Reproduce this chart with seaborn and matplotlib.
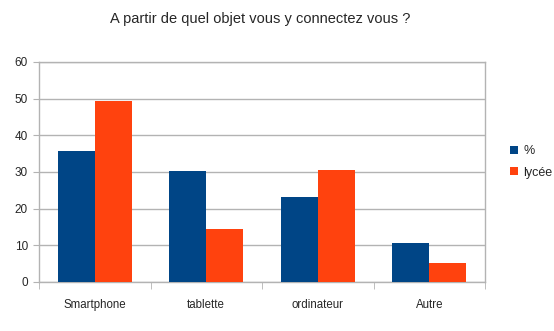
import matplotlib
matplotlib.use("Agg")
import matplotlib.pyplot as plt
import seaborn as sns
import pandas as pd
import numpy as np
from matplotlib.patches import Patch

categories = ["Smartphone", "tablette", "ordinateur", "Autre"]
series_names = ["%", "lycée"]
pct_values = [35.7, 30.2, 23.2, 10.7]
lycee_values = [49.4, 14.5, 30.6, 5.1]
colors = ["#004586", "#ff420e"]

df = pd.DataFrame({
    "cat": categories * 2,
    "serie": [series_names[0]] * 4 + [series_names[1]] * 4,
    "val": pct_values + lycee_values,
})

sns.set_style("white")
plt.rcParams["font.family"] = ["Liberation Sans", "DejaVu Sans"]

fig = plt.figure(figsize=(5.54, 3.31), dpi=100)
ax = fig.add_axes([39/554, 1 - 282/331, (485-39)/554, (282-62)/331])

sns.barplot(data=df, x="cat", y="val", hue="serie", palette=colors,
            width=0.66, gap=0, ax=ax, legend=False, saturation=1,
            linewidth=0, zorder=3)

ax.set_ylim(0, 60)
ax.set_xlim(-0.5, 3.5)
ax.set_yticks(range(0, 61, 10))
ax.yaxis.grid(True, color="#b3b3b3", linewidth=1, zorder=0)
ax.set_axisbelow(True)
ax.set_xlabel("")
ax.set_ylabel("")
for s in ax.spines.values():
    s.set_color("#b3b3b3")
    s.set_linewidth(1)
ax.tick_params(axis="y", length=4, color="#b3b3b3", labelsize=8.5, pad=4, left=True)
ax.tick_params(axis="x", which="major", length=0, labelsize=8.3, pad=12)
ax.set_xticks(np.arange(-0.5, 4.0, 1.0), minor=True)
ax.tick_params(axis="x", which="minor", length=5, color="#b3b3b3", bottom=True)

fig.text(260/554, 1 - 19/331, "A partir de quel objet vous y connectez vous ?",
         ha="center", va="center", fontsize=10.5)

handles = [Patch(facecolor=c, edgecolor="none") for c in colors]
fig.legend(handles, series_names, loc="center left", bbox_to_anchor=(510/554, 1 - 162/331),
           frameon=False, fontsize=9, handlelength=0.65, handleheight=0.65,
           handletextpad=0.4, labelspacing=0.75, borderaxespad=0, borderpad=0)

fig.savefig("out.png", dpi=100)
